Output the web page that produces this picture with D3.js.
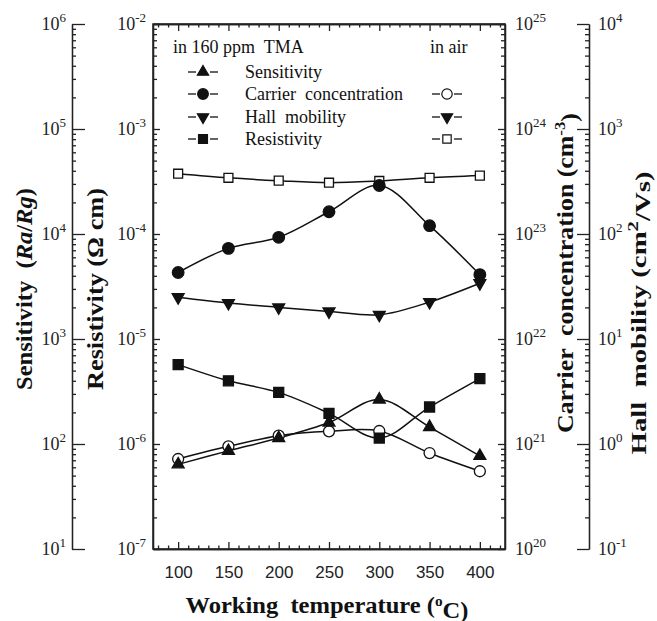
<!DOCTYPE html>
<html><head><meta charset="utf-8">
<script src="https://cdn.jsdelivr.net/npm/d3@7"></script>
<style>body{margin:0;background:#fff}svg{display:block}</style>
</head><body>
<svg id="c" width="657" height="621"></svg>
<script>
// ---- data ----
const temps = [100, 150, 200, 250, 300, 350, 400];
const sensitivityTMA = [64, 86, 114, 160, 265, 145, 77];
const carrierTMA = [4.3e22, 7.3e22, 9.3e22, 1.63e23, 2.9e23, 1.2e23, 4.1e22];
const hallTMA = [25, 22, 20, 18.3, 17, 22.5, 34];
const resistivityTMA = [5.7e-6, 4.0e-6, 3.1e-6, 1.96e-6, 1.14e-6, 2.25e-6, 4.2e-6];
const carrierAir = [7.2e20, 9.5e20, 1.2e21, 1.32e21, 1.33e21, 8.2e20, 5.5e20];
const resistivityAir = [3.75e-4, 3.43e-4, 3.22e-4, 3.08e-4, 3.2e-4, 3.43e-4, 3.6e-4];
const xTicks = [100, 150, 200, 250, 300, 350, 400];
const legendTMA = ["Sensitivity", "Carrier  concentration", "Hall  mobility", "Resistivity"];

// ---- layout ----
const svg = d3.select('#c');
const X0 = 153, X1 = 505, Y0 = 24, Y1 = 549;
const x = d3.scaleLinear().domain([75, 425]).range([X0, X1]);
const yRes = d3.scaleLog().domain([1e-7, 1e-2]).range([Y1, Y0]);
const ySens = d3.scaleLog().domain([1e1, 1e6]).range([Y1, Y0]);
const yCar = d3.scaleLog().domain([1e20, 1e25]).range([Y1, Y0]);
const yHall = d3.scaleLog().domain([1e-1, 1e4]).range([Y1, Y0]);
const SERIF = "'Liberation Serif','Times New Roman',serif";
const SANS = "'Liberation Sans',Arial,sans-serif";

function logTicks(scale) {
  const [a, b] = scale.domain();
  const ea = Math.round(Math.log10(a)), eb = Math.round(Math.log10(b));
  const major = [], minor = [];
  for (let e = ea; e <= eb; e++) {
    major.push(Math.pow(10, e));
    if (e < eb) for (let m = 2; m <= 9; m++) minor.push(m * Math.pow(10, e));
  }
  return { major, minor };
}
function supLabels(g, fs) {
  g.selectAll('.tick text').each(function (d) {
    const t = d3.select(this);
    const e = Math.round(Math.log10(d));
    t.text(null).attr('font-family', SERIF).attr('font-size', fs).attr('fill', '#222');
    t.append('tspan').text('10');
    t.append('tspan').attr('dy', '-0.6em').attr('font-size', 13).text(e);
  });
}
function logAxis(scale, xPos, orient, majorLen, minorLen, pad, labels) {
  const tk = logTicks(scale);
  const mk = orient === 'left' ? d3.axisLeft : d3.axisRight;
  const gMin = svg.append('g').attr('transform', `translate(${xPos},0)`)
    .call(mk(scale).tickValues(tk.minor).tickSize(-minorLen).tickSizeOuter(0).tickFormat(''));
  const gMaj = svg.append('g').attr('transform', `translate(${xPos},0)`)
    .call(mk(scale).tickValues(tk.major).tickSize(-majorLen).tickSizeOuter(0).tickPadding(pad));
  [gMin, gMaj].forEach(g => { g.selectAll('path,line').attr('stroke', '#222').attr('stroke-width', 1.3); });
  if (labels) supLabels(gMaj, 18); else gMaj.selectAll('text').remove();
  return gMaj;
}

// frame
svg.append('rect').attr('x', X0).attr('y', Y0).attr('width', X1 - X0).attr('height', Y1 - Y0)
  .attr('fill', 'none').attr('stroke', '#222').attr('stroke-width', 1.5);

// y axes
logAxis(ySens, 72, 'left', 13, 4, 6, true);
logAxis(yRes, X0, 'left', 7, 4, 7, true);
logAxis(yCar, X1, 'right', 7, 4, 10, true);
logAxis(yHall, 589, 'right', 12, 4, 9, true);

// x axes
const xMinor = d3.range(80, 425, 10).filter(v => v % 50 !== 0);
const gxb = svg.append('g').attr('transform', `translate(0,${Y1})`)
  .call(d3.axisBottom(x).tickValues(xTicks).tickSize(-7).tickSizeOuter(0).tickPadding(17).tickFormat(d3.format('d')));
const gxbm = svg.append('g').attr('transform', `translate(0,${Y1})`)
  .call(d3.axisBottom(x).tickValues(xMinor).tickSize(-3.5).tickSizeOuter(0).tickFormat(''));
const gxt = svg.append('g').attr('transform', `translate(0,${Y0})`)
  .call(d3.axisTop(x).tickValues(xTicks).tickSize(-7).tickSizeOuter(0).tickFormat(''));
const gxtm = svg.append('g').attr('transform', `translate(0,${Y0})`)
  .call(d3.axisTop(x).tickValues(xMinor).tickSize(-3.5).tickSizeOuter(0).tickFormat(''));
[gxb, gxbm, gxt, gxtm].forEach(g => g.selectAll('path,line').attr('stroke', '#222').attr('stroke-width', 1.3));
gxb.selectAll('text').attr('font-family', SANS).attr('font-size', 17).attr('fill', '#222');

// titles
function vTitle(cx, cy, len, fs, parts) {
  const t = svg.append('text').attr('transform', `translate(${cx},${cy}) rotate(-90)`)
    .attr('text-anchor', 'middle').attr('dy', '0.35em').style('white-space', 'pre')
    .attr('font-family', SERIF).attr('font-weight', 'bold').attr('font-size', fs).attr('fill', '#111')
    .attr('textLength', len).attr('lengthAdjust', 'spacingAndGlyphs');
  parts.forEach(p => {
    const s = t.append('tspan').text(p.t);
    if (p.i) s.attr('font-style', 'italic');
    if (p.sup) s.attr('dy', '-0.55em').attr('font-size', 15);
    if (p.down) s.attr('dy', '0.55em');
  });
  return t;
}
vTitle(24, 289, 202, 23, [{ t: 'Sensitivity  (' }, { t: 'Ra', i: 1 }, { t: '/' }, { t: 'Rg', i: 1 }, { t: ')' }]);
vTitle(95, 289, 202, 23, [{ t: 'Resistivity (Ω cm)' }]);
vTitle(565, 273, 320, 23, [{ t: 'Carrier  concentration (cm' }, { t: '-3', sup: 1 }, { t: ')', down: 1 }]);
vTitle(639, 313, 283, 21, [{ t: 'Hall  mobility (cm' }, { t: '2', sup: 1 }, { t: '/Vs)', down: 1 }]);

const xt = svg.append('text').attr('x', 327).attr('y', 613).attr('text-anchor', 'middle').style('white-space', 'pre')
  .attr('font-family', SERIF).attr('font-weight', 'bold').attr('font-size', 24).attr('fill', '#111')
  .attr('textLength', 283).attr('lengthAdjust', 'spacingAndGlyphs');
xt.append('tspan').text('Working  temperature (');
xt.append('tspan').attr('dy', '-0.5em').attr('font-size', 15).text('o');
xt.append('tspan').attr('dy', '0.5em').text('C)');

// ---- series ----
const series = [
  { v: resistivityAir, y: yRes, sym: d3.symbolSquare, size: 80, fill: '#fff', rot: 0 },
  { v: carrierAir, y: yCar, sym: d3.symbolCircle, size: 95, fill: '#fff', rot: 0 },
  { v: carrierTMA, y: yCar, sym: d3.symbolCircle, size: 105, fill: '#111', rot: 0 },
  { v: hallTMA, y: yHall, sym: d3.symbolTriangle, size: 62, fill: '#111', rot: 180 },
  { v: resistivityTMA, y: yRes, sym: d3.symbolSquare, size: 100, fill: '#111', rot: 0 },
  { v: sensitivityTMA, y: ySens, sym: d3.symbolTriangle, size: 62, fill: '#111', rot: 0 },
];
series.forEach(s => {
  const pts = temps.map((t, i) => [t, s.v[i]]);
  svg.append('path').datum(pts).attr('fill', 'none').attr('stroke', '#111').attr('stroke-width', 1.5)
    .attr('d', d3.line().x(d => x(d[0])).y(d => s.y(d[1])).curve(d3.curveCatmullRom.alpha(0.5)));
});
series.forEach(s => {
  const pts = temps.map((t, i) => [t, s.v[i]]);
  svg.append('g').selectAll('path').data(pts).join('path')
    .attr('transform', d => `translate(${x(d[0])},${s.y(d[1])}) rotate(${s.rot})`)
    .attr('d', d3.symbol(s.sym, s.size)).attr('fill', s.fill).attr('stroke', '#111').attr('stroke-width', 1.3);
});

// ---- legend ----
const lg = svg.append('g').attr('font-family', SERIF).attr('font-size', 18).attr('fill', '#111');
lg.append('text').attr('x', 173).attr('y', 53).style('white-space', 'pre').text('in 160 ppm  TMA');
lg.append('text').attr('x', 430).attr('y', 53).text('in air');
const rowsY = [72, 94, 117, 139];
const legSyms = [
  { sym: d3.symbolTriangle, size: 55, rot: 0 }, { sym: d3.symbolCircle, size: 90, rot: 0 },
  { sym: d3.symbolTriangle, size: 55, rot: 180 }, { sym: d3.symbolSquare, size: 80, rot: 0 }];
const airSyms = [null, { sym: d3.symbolCircle, size: 85, fill: '#fff', rot: 0 },
  { sym: d3.symbolTriangle, size: 55, fill: '#111', rot: 180 }, { sym: d3.symbolSquare, size: 70, fill: '#fff', rot: 0 }];
function legMark(cx, cy, m, fill) {
  lg.append('line').attr('x1', cx - 15).attr('x2', cx - 7).attr('y1', cy).attr('y2', cy).attr('stroke', '#111').attr('stroke-width', 1.3);
  lg.append('line').attr('x1', cx + 7).attr('x2', cx + 15).attr('y1', cy).attr('y2', cy).attr('stroke', '#111').attr('stroke-width', 1.3);
  lg.append('path').attr('transform', `translate(${cx},${cy}) rotate(${m.rot})`).attr('d', d3.symbol(m.sym, m.size))
    .attr('fill', fill).attr('stroke', '#111').attr('stroke-width', 1.2);
}
legendTMA.forEach((name, i) => {
  legMark(203, rowsY[i], legSyms[i], '#111');
  lg.append('text').attr('x', 245).attr('y', rowsY[i] + 6).style('white-space', 'pre').text(name);
  if (airSyms[i]) legMark(447, rowsY[i], airSyms[i], airSyms[i].fill);
});
</script>
</body></html>
